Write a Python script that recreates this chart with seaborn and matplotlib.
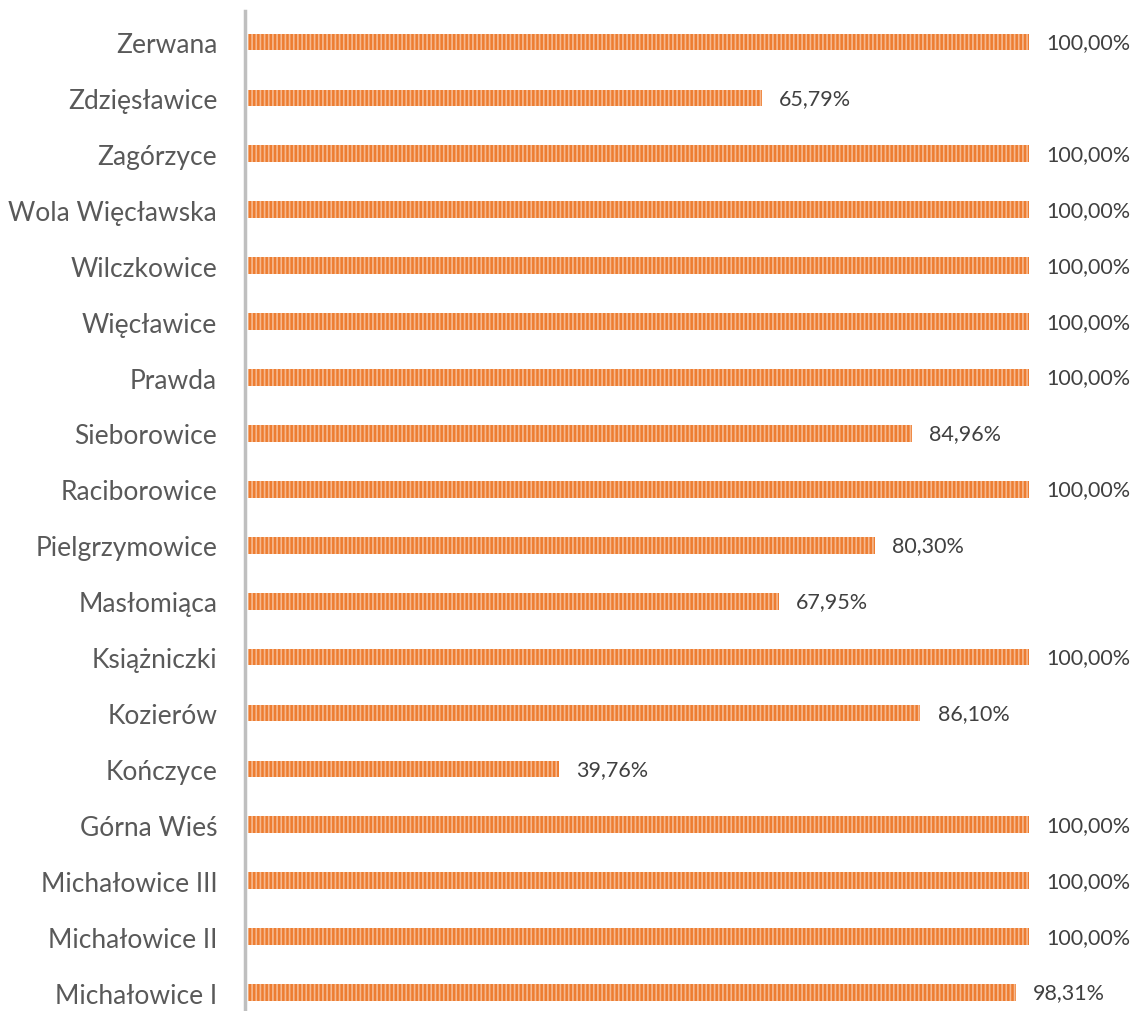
import matplotlib
matplotlib.use("Agg")
import matplotlib.pyplot as plt
import seaborn as sns
import pandas as pd

categories = ["Zerwana", "Zdzięsławice", "Zagórzyce", "Wola Więcławska", "Wilczkowice",
              "Więcławice", "Prawda", "Sieborowice", "Raciborowice", "Pielgrzymowice",
              "Masłomiąca", "Książniczki", "Kozierów", "Kończyce", "Górna Wieś",
              "Michałowice III", "Michałowice II", "Michałowice I"]
values = [100.00, 65.79, 100.00, 100.00, 100.00, 100.00, 100.00, 84.96, 100.00, 80.30,
          67.95, 100.00, 86.10, 39.76, 100.00, 100.00, 100.00, 98.31]

sns.set_theme(style="white")
plt.rcParams['font.family'] = ['Lato', 'DejaVu Sans']
plt.rcParams['hatch.linewidth'] = 1.2

df = pd.DataFrame({"cat": categories, "val": values})

fig = plt.figure(figsize=(11.33, 10.12), dpi=100)
ax = fig.add_axes([245/1133, 0.0, (1029-245)/1133, 1 - 12/1012])

sns.barplot(data=df, x="val", y="cat", orient="h", color="#ED7D31",
            width=0.30, ax=ax, saturation=1)
for p in ax.patches:
    p.set_hatch("||||")
    p.set_edgecolor("#F6B990")
    p.set_linewidth(0)

ax.set_xlim(-0.4, 100)
ax.set_ylim(17.33, -0.555)
ax.set_xlabel("")
ax.set_ylabel("")
ax.set_xticks([])
for s in ["top", "right", "bottom"]:
    ax.spines[s].set_visible(False)
ax.spines["left"].set_color("#BFBFBF")
ax.spines["left"].set_linewidth(2.5)
ax.tick_params(axis="y", length=0, pad=20, labelsize=19, labelcolor="#595959")

for i, v in enumerate(values):
    ax.text(v + 2.2, i, f"{v:.2f}".replace(".", ",") + "%", va="center", ha="left",
            fontsize=15.5, color="#404040")

fig.savefig("out.png", dpi=100)
